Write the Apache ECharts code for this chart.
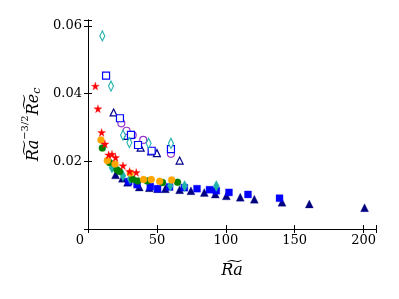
<!DOCTYPE html>
<html><head><meta charset="utf-8">
<script src="https://cdn.jsdelivr.net/npm/echarts@6/dist/echarts.min.js"></script>
<style>html,body{margin:0;padding:0;background:#fff}#c{width:399px;height:299px}</style>
</head><body><div id="c"></div>
<script>
// Data: [Ra~, Ra~^{-3/2} Re~_c]
const openDiamond = [[10.4,0.0570],[16.7,0.0422],[25.4,0.0277],[30.0,0.0255],[44.0,0.0253],[60.2,0.0253]];
const openSquare = [[13.1,0.0453],[23.2,0.0327],[31.2,0.0278],[36.3,0.0248],[46.2,0.0231],[60.2,0.0236]];
const openCircle = [[24.2,0.0312],[28.0,0.0290],[32.4,0.0277],[40.1,0.0263],[60.2,0.0222]];
const openTriangle = [[18.6,0.0344],[28.3,0.0275],[38.2,0.0240],[45.9,0.0229],[50.0,0.0224],[66.5,0.0202]];
const redStar = [[5.3,0.0422],[7.2,0.0355],[9.9,0.0285],[12.3,0.0251],[15.0,0.0219],[17.4,0.0221],[20.0,0.0211],[25.4,0.0187],[30.2,0.0170],[35.0,0.0167]];
const orangeCircle = [[9.4,0.0263],[14.0,0.0202],[19.6,0.0192],[30.7,0.0165],[40.3,0.0146],[45.9,0.0146],[52.0,0.0141],[60.7,0.0145]];
const greenCircle = [[10.4,0.0239],[15.7,0.0196],[21.0,0.0175],[22.9,0.0170],[32.4,0.0147],[36.0,0.0142],[43.0,0.0142],[54.1,0.0137],[65.0,0.0138]];
const cyanDiamond = [[17.4,0.0181],[25.4,0.0157],[30.5,0.0148],[59.7,0.0128],[70.1,0.0127],[93.1,0.0127]];
const blueSquare = [[29.5,0.0140],[35.6,0.0131],[45.2,0.0125],[50.5,0.0119],[59.2,0.0124],[69.9,0.0122],[79.1,0.0119],[88.2,0.0116],[93.1,0.0113],[102.3,0.0108],[116.1,0.0102],[139.0,0.0091]];
const navyTriangle = [[20.0,0.0160],[25.0,0.0150],[28.7,0.0138],[37.2,0.0124],[44.5,0.0122],[50.5,0.0119],[56.1,0.0119],[66.5,0.0116],[74.7,0.0113],[84.4,0.0108],[92.4,0.0103],[100.4,0.0098],[110.5,0.0094],[120.7,0.0088],[140.8,0.0079],[160.6,0.0074],[200.7,0.0063]];
const xTicks = [0,50,100,150,200];
const yTicks = [0.02,0.04,0.06];

const star = 'path://M50,0 L61,35 L98,35 L68,57 L79,91 L50,70 L21,91 L32,57 L2,35 L39,35 Z';
const serif = '"DejaVu Serif","Liberation Serif",serif';
function sc(data, symbol, size, color, hollow, z){
  return {type:'scatter', data:data, symbol:symbol, symbolSize:size, z:z||2,
    itemStyle: hollow ? {color:'#fff', borderColor:color, borderWidth:1.2, opacity:1}
                      : {color:color, borderColor:color, borderWidth:0.3, opacity:1}};
}
const chart = echarts.init(document.getElementById('c'));
const axisLine = {show:true, lineStyle:{color:'#000', width:1}};
chart.setOption({
  animation:false,
  grid:{left:88, right:23, top:20, bottom:70},
  xAxis:[{type:'value', min:0, max:209, interval:50, position:'bottom',
    axisLine:axisLine, axisTick:{inside:true, length:4, lineStyle:{color:'#000'}},
    splitLine:{show:false},
    axisLabel:{color:'#000', fontFamily:serif, fontSize:13, margin:5,
      formatter:function(v){ if(v===0) return '{z|0}'; return xTicks.indexOf(v)>=0 ? String(v) : ''; },
      rich:{z:{fontFamily:serif, fontSize:13, color:'#000', padding:[0,16,0,0]}}},
    name:'R\u0360a', nameLocation:'middle', nameGap:34,
    nameTextStyle:{fontFamily:serif, fontStyle:'italic', fontSize:16, color:'#000'}},
   {type:'value', min:0, max:209, interval:50, position:'top',
    axisLine:axisLine, axisTick:{inside:true, length:4, lineStyle:{color:'#000'}},
    axisLabel:{show:false}, splitLine:{show:false}}],
  yAxis:[{type:'value', min:0, max:0.0617, interval:0.02,
    axisLine:axisLine, axisTick:{inside:true, length:4, lineStyle:{color:'#000'}},
    splitLine:{show:false},
    axisLabel:{color:'#000', fontFamily:serif, fontSize:13, margin:6,
      formatter:function(v){ for(const t of yTicks){ if(Math.abs(v-t)<1e-6) return t.toFixed(2);} return ''; }},
    name:'{t|R\u0360a}{s|\u22123/2}{t|R\u0360e}{b|c}', nameLocation:'middle', nameGap:39,
    nameTextStyle:{color:'#000', rich:{
      t:{fontFamily:serif, fontStyle:'italic', fontSize:16, color:'#000', verticalAlign:'bottom', lineHeight:22},
      s:{fontFamily:serif, fontSize:10, color:'#000', verticalAlign:'top', lineHeight:22},
      b:{fontFamily:serif, fontStyle:'italic', fontSize:11, color:'#000', verticalAlign:'bottom', lineHeight:18}}}},
   {type:'value', min:0, max:0.0617, interval:0.02, position:'right',
    axisLine:axisLine, axisTick:{inside:true, length:4, lineStyle:{color:'#000'}},
    axisLabel:{show:false}, splitLine:{show:false}}],
  series:[
    sc(navyTriangle,'triangle',8,'#000080',false,3),
    sc(blueSquare,'rect',7,'#0000ff',false,3),
    sc(cyanDiamond,'diamond',[6,11],'#20b2aa',false,4),
    sc(greenCircle,'circle',7,'#008000',false,4),
    sc(orangeCircle,'circle',7,'#ffa500',false,5),
    sc(redStar,star,8,'#ff0000',false,6),
    sc(openTriangle,'triangle',7,'#00008b',true,5),
    sc(openCircle,'circle',7,'#9932cc',true,5),
    sc(openSquare,'rect',7,'#0000ff',true,5),
    sc(openDiamond,'diamond',[5,10],'#20b2aa',true,5)
  ]
});
</script></body></html>
